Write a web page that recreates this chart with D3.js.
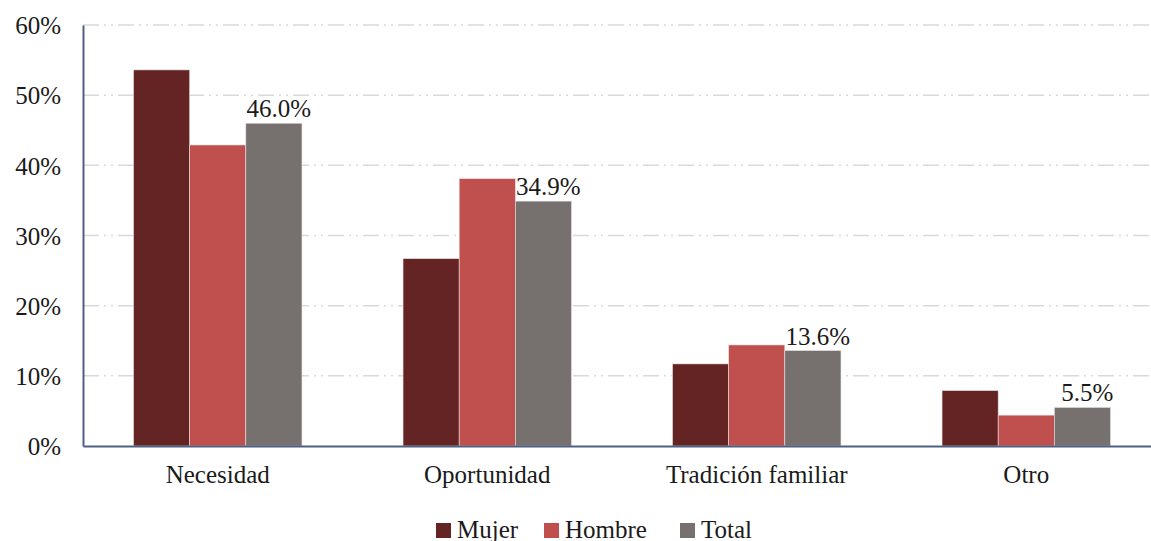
<!DOCTYPE html>
<html>
<head>
<meta charset="utf-8">
<script src="https://cdn.jsdelivr.net/npm/d3@7"></script>
<style>
  body { margin: 0; background: #fff; }
  text { font-family: "Liberation Serif", "DejaVu Serif", serif; fill: #1a1a1a; }
</style>
</head>
<body>
<div id="chart"></div>
<script>
// categories and series
const categories = ['Necesidad', 'Oportunidad', 'Tradición familiar', 'Otro'];
const seriesNames = ['Mujer', 'Hombre', 'Total'];
const mujer = [53.6, 26.7, 11.7, 7.9];
const hombre = [42.9, 38.1, 14.4, 4.4];
const total = [46.0, 34.9, 13.6, 5.5];
const yTicks = [0, 10, 20, 30, 40, 50, 60];

const colors = { Mujer: '#632423', Hombre: '#c0504d', Total: '#76706f' };

const width = 1151, height = 541;
const margin = { top: 25, right: -10, bottom: 95, left: 83 };
const innerW = width - margin.left - margin.right;
const innerH = height - margin.top - margin.bottom;

const svg = d3.select('#chart').append('svg')
  .attr('width', width)
  .attr('height', height);

const g = svg.append('g')
  .attr('transform', `translate(${margin.left},${margin.top})`);

const x0 = d3.scaleBand().domain(categories).range([0, innerW]).paddingInner(0.375).paddingOuter(0.1875);
const x1 = d3.scaleBand().domain(seriesNames).range([0, x0.bandwidth()]);
const y = d3.scaleLinear().domain([0, 60]).range([innerH, 0]);

// gridlines
g.append('g')
  .selectAll('line')
  .data(yTicks.filter(t => t > 0))
  .join('line')
  .attr('x1', 0)
  .attr('x2', innerW)
  .attr('y1', d => y(d))
  .attr('y2', d => y(d))
  .attr('stroke', '#d9d9d9')
  .attr('stroke-width', 1.5)
  .attr('stroke-dasharray', '16,5,2,5,2,5');

// bars
const rows = categories.map((c, i) => ({
  cat: c,
  vals: [
    { s: 'Mujer', v: mujer[i] },
    { s: 'Hombre', v: hombre[i] },
    { s: 'Total', v: total[i] }
  ]
}));

const groups = g.selectAll('.grp')
  .data(rows)
  .join('g')
  .attr('class', 'grp')
  .attr('transform', d => `translate(${x0(d.cat)},0)`);

groups.selectAll('rect')
  .data(d => d.vals)
  .join('rect')
  .attr('x', d => x1(d.s))
  .attr('y', d => y(d.v))
  .attr('width', x1.bandwidth())
  .attr('height', d => innerH - y(d.v))
  .attr('fill', d => colors[d.s])
  .attr('stroke', '#e8e0e0')
  .attr('stroke-width', 0.6);

// value labels on Total
groups.append('text')
  .attr('x', x1('Total') + x1.bandwidth() / 2 + 5)
  .attr('y', d => y(d.vals[2].v) - 6)
  .attr('text-anchor', 'middle')
  .style('font-size', '25px')
  .text(d => d.vals[2].v.toFixed(1) + '%');

// y axis
const yAxis = g.append('g')
  .call(d3.axisLeft(y).tickValues(yTicks).tickSize(0).tickPadding(22).tickFormat(d => d + '%'));
yAxis.select('.domain').attr('stroke', '#4f6180').attr('stroke-width', 2);
yAxis.selectAll('text')
  .style('font-size', '25px')
  .attr('font-family', null)
  .attr('dy', '0.35em');

// x axis
const xAxis = g.append('g')
  .attr('transform', `translate(0,${innerH})`)
  .call(d3.axisBottom(x0).tickSize(0).tickPadding(19));
xAxis.select('.domain').attr('stroke', '#4f6180').attr('stroke-width', 2);
xAxis.selectAll('text')
  .style('font-size', '25px')
  .attr('font-family', null)
  .attr('dy', '0.71em');

// legend
const legendX = [436, 544, 680];
const legend = svg.append('g')
  .selectAll('g')
  .data(seriesNames)
  .join('g')
  .attr('transform', (d, i) => `translate(${legendX[i]},523)`);

legend.append('rect')
  .attr('width', 15)
  .attr('height', 15)
  .attr('fill', d => colors[d]);

legend.append('text')
  .attr('x', 21)
  .attr('y', 15)
  .style('font-size', '25px')
  .text(d => d);
</script>
</body>
</html>
